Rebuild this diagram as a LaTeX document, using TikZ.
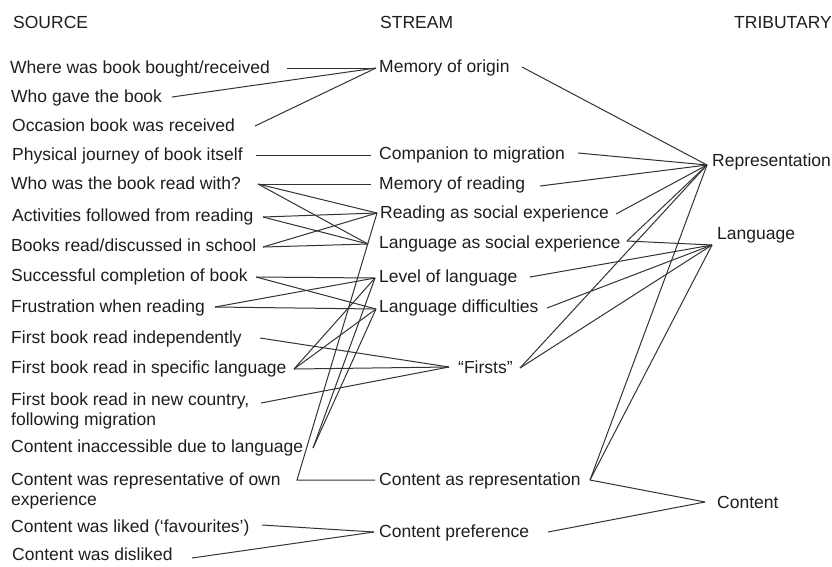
\documentclass[tikz,border=0pt]{standalone}
\usepackage{fontspec}
\setmainfont{Liberation Sans}
\definecolor{txt}{HTML}{1E1E1E}
\definecolor{ln}{HTML}{333333}
\begin{document}
\begin{tikzpicture}[x=1pt,y=-1pt,
  lbl/.style={anchor=base west, inner sep=0pt, text=txt, font=\fontsize{17.5}{20}\selectfont},
  con/.style={draw=ln, line width=1pt, line join=miter}]
\useasboundingbox[fill=white] (0,0) rectangle (832,566);
% headers
\node[lbl] (hsrc) at (13,28) {SOURCE};
\node[lbl] (hstr) at (380,28) {STREAM};
\node[lbl] (htrb) at (734,28) {TRIBUTARY};
% sources
\node[lbl] (src1) at (10,73.5) {Where was book bought/received};
\node[lbl] (src2) at (11,102.5) {Who gave the book};
\node[lbl] (src3) at (12,131.5) {Occasion book was received};
\node[lbl] (src4) at (12,160.5) {Physical journey of book itself};
\node[lbl] (src5) at (11,189.5) {Who was the book read with?};
\node[lbl] (src6) at (12,221.5) {Activities followed from reading};
\node[lbl] (src7) at (11,251.5) {Books read/discussed in school};
\node[lbl] (src8) at (11,281.5) {Successful completion of book};
\node[lbl] (src9) at (11,312) {Frustration when reading};
\node[lbl] (src10) at (11,343) {First book read independently};
\node[lbl] (src11) at (11,373.5) {First book read in specific language};
\node[lbl] (src12) at (11,405) {First book read in new country,};
\node[lbl] (src12b) at (11,425) {following migration};
\node[lbl] (src13) at (11,452.5) {Content inaccessible due to language};
\node[lbl] (src14) at (11,485) {Content was representative of own};
\node[lbl] (src14b) at (11,505) {experience};
\node[lbl] (src15) at (11,532) {Content was liked (‘favourites’)};
\node[lbl] (src16) at (12,560.5) {Content was disliked};
% streams
\node[lbl] (st1) at (379,72) {Memory of origin};
\node[lbl] (st2) at (379,159) {Companion to migration};
\node[lbl] (st3) at (379,189.5) {Memory of reading};
\node[lbl] (st4) at (380,218) {Reading as social experience};
\node[lbl] (st5) at (379,248.5) {Language as social experience};
\node[lbl] (st6) at (379,282) {Level of language};
\node[lbl] (st7) at (379,312) {Language difficulties};
\node[lbl] (st8) at (458,373.5) {“Firsts”};
\node[lbl] (st9) at (379,485) {Content as representation};
\node[lbl] (st10) at (379,537) {Content preference};
% tributaries
\node[lbl] (tr1) at (712,166) {Representation};
\node[lbl] (tr2) at (717,239) {Language};
\node[lbl] (tr3) at (717,508) {Content};
% connector end points
\coordinate (a1) at (287,68);
\coordinate (a2) at (172,97);
\coordinate (a3) at (255,126);
\coordinate (a4) at (256,155);
\coordinate (a5) at (258,184);
\coordinate (a6) at (263,217);
\coordinate (a7) at (263,247);
\coordinate (a8) at (256,277);
\coordinate (a9) at (215,307);
\coordinate (a10) at (260,338);
\coordinate (a11) at (294,369);
\coordinate (a12) at (261,403);
\coordinate (a13) at (313,448);
\coordinate (a14) at (297,480);
\coordinate (a15) at (262,525);
\coordinate (a16) at (192,558);
\coordinate (b1) at (376,68);
\coordinate (b2) at (371,155);
\coordinate (b3) at (371,184);
\coordinate (b4) at (377,213);
\coordinate (b5) at (368,244);
\coordinate (b6) at (375,278);
\coordinate (b7) at (376,309);
\coordinate (b8) at (449,367);
\coordinate (b9) at (375,480);
\coordinate (b10) at (374,532);
\coordinate (c1) at (522,67);
\coordinate (c2) at (578,153);
\coordinate (c3) at (540,186);
\coordinate (c4) at (616,214);
\coordinate (c5) at (627,241);
\coordinate (c6) at (530,277);
\coordinate (c7) at (547,308);
\coordinate (c8) at (520,368);
\coordinate (c9) at (590,480);
\coordinate (c10) at (548,532);
\coordinate (r) at (707,165);
\coordinate (l) at (712,245);
\coordinate (k) at (705,502);
% source -> stream
\draw[con] (a1) -- (b1);
\draw[con] (a2) -- (b1);
\draw[con] (a3) -- (b1);
\draw[con] (a4) -- (b2);
\draw[con] (a5) -- (b3);
\draw[con] (a5) -- (b4);
\draw[con] (a5) -- (b5);
\draw[con] (a6) -- (b4);
\draw[con] (a6) -- (b5);
\draw[con] (a7) -- (b4);
\draw[con] (a7) -- (b5);
\draw[con] (a8) -- (b6);
\draw[con] (a8) -- (b7);
\draw[con] (a9) -- (b6);
\draw[con] (a9) -- (b7);
\draw[con] (a10) -- (b8);
\draw[con] (a11) -- (b8);
\draw[con] (a12) -- (b8);
\draw[con] (a11) -- (b6);
\draw[con] (a11) -- (b7);
\draw[con] (a13) -- (b6);
\draw[con] (a13) -- (b7);
\draw[con] (b9) -- (a14) -- (b4);
\draw[con] (a15) -- (b10);
\draw[con] (a16) -- (b10);
% stream -> tributary
\draw[con] (c1) -- (r);
\draw[con] (c2) -- (r);
\draw[con] (c3) -- (r);
\draw[con] (c4) -- (r);
\draw[con] (c5) -- (r);
\draw[con] (c5) -- (l);
\draw[con] (c6) -- (l);
\draw[con] (c7) -- (l);
\draw[con] (c8) -- (r);
\draw[con] (c8) -- (l);
\draw[con] (c9) -- (r);
\draw[con] (c9) -- (l);
\draw[con] (c9) -- (k);
\draw[con] (c10) -- (k);
\end{tikzpicture}
\end{document}
